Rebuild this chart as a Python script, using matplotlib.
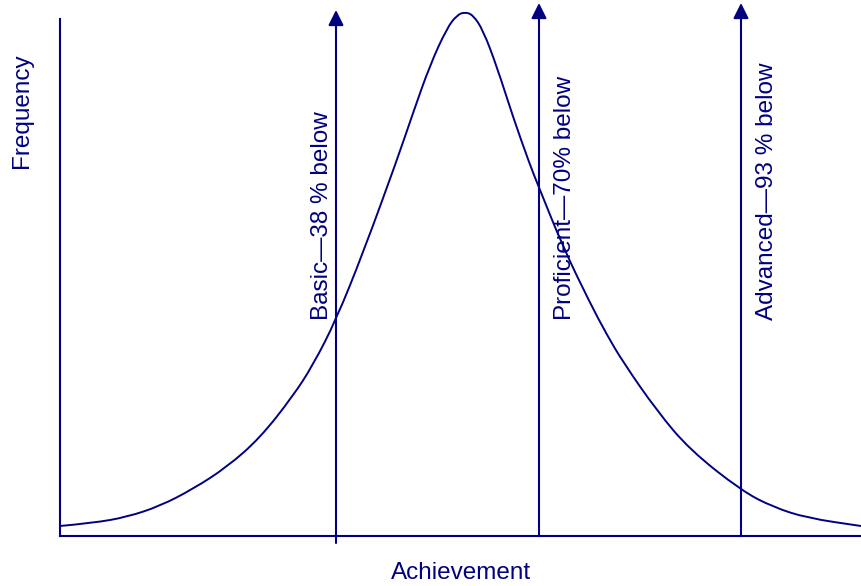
import numpy as np
import matplotlib.pyplot as plt
from matplotlib.path import Path
from matplotlib.patches import PathPatch

# Achievement distribution (arbitrary units)
achievement = [0, 33, 67, 100, 133, 167, 200, 233, 253, 276, 303, 337, 353,
               370, 387, 397, 405, 413, 423, 437, 453, 470, 478, 503, 530,
               547, 563, 597, 630, 682, 713, 747, 801]
frequency = [10, 13, 19, 30, 47, 69, 98, 140, 171, 216, 283, 376, 423,
             471, 508, 521, 524, 521, 506, 469, 419, 371, 351, 289, 233,
             201, 174, 125, 86, 45, 29, 18, 10]

# Cut points and their labels
cut_x = [276, 479, 681]
cut_labels = ["Basic\u201438 % below", "Proficient\u201470% below", "Advanced\u201493 % below"]
cut_base = [-7, 0, 0]
cut_tip = [526, 533, 533]
label_x = [262, 505, 707]

navy = "#000080"


def smooth_path(xs, ys):
    # quadratic Bezier pieces, the read points act as control points
    pts = np.column_stack([xs, ys]).astype(float)
    verts = [pts[0]]
    codes = [Path.MOVETO]
    for i in range(1, len(pts) - 1):
        verts += [pts[i], (pts[i] + pts[i + 1]) / 2]
        codes += [Path.CURVE3, Path.CURVE3]
    verts.append(pts[-1])
    codes.append(Path.LINETO)
    return Path(verts, codes)


fig = plt.figure(figsize=(8.61, 5.86), dpi=100)
ax = fig.add_axes([60 / 861, 50 / 586, 801 / 861, 517 / 586])
ax.set_xlim(0, 801)
ax.set_ylim(0, 517)

ax.add_patch(PathPatch(smooth_path(achievement, frequency), fill=False,
                       edgecolor=navy, lw=1.4, clip_on=False))

for x, base, tip in zip(cut_x, cut_base, cut_tip):
    ax.annotate("", xy=(x, tip), xytext=(x, base), annotation_clip=False,
                arrowprops=dict(arrowstyle="-|>", color=navy, lw=1.5,
                                mutation_scale=23, shrinkA=0, shrinkB=0))

for x, lab in zip(label_x, cut_labels):
    ax.text(x, 216, lab, rotation=90, ha="center", va="bottom",
            fontsize=17.5, color=navy, family="Liberation Sans")

for side in ["top", "right"]:
    ax.spines[side].set_visible(False)
for side in ["left", "bottom"]:
    ax.spines[side].set_color(navy)
    ax.spines[side].set_linewidth(1.5)
ax.set_xticks([])
ax.set_yticks([])

fig.text(22 / 861, 1 - 111 / 586, "Frequency", rotation=90, ha="center", va="center",
         fontsize=17.5, color=navy, family="Liberation Sans")
fig.text(461 / 861, 1 - 573 / 586, "Achievement", ha="center", va="center",
         fontsize=17.5, color=navy, family="Liberation Sans")

fig.savefig("out.png", dpi=100)
